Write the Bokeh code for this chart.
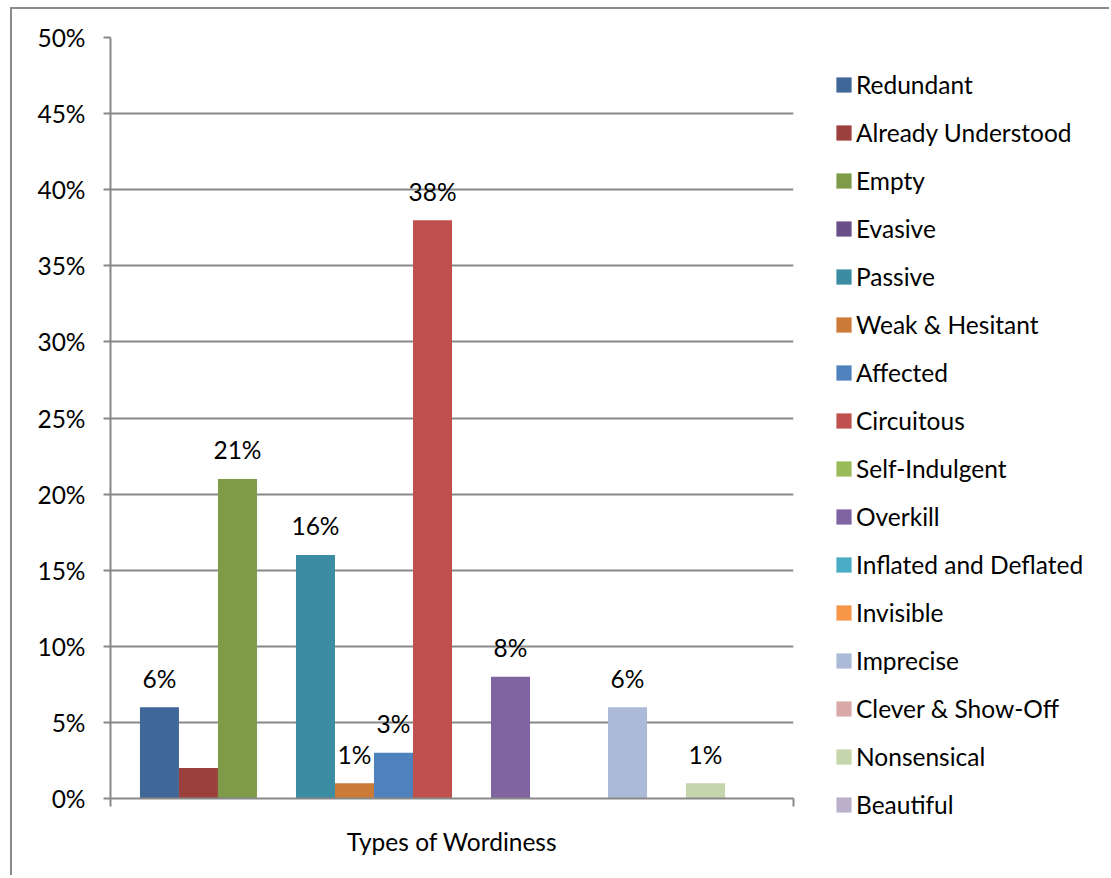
from bokeh.plotting import figure
from bokeh.layouts import row
from bokeh.models import (Range1d, FixedTicker, PrintfTickFormatter, Legend,
                          LegendItem, ColumnDataSource)
from bokeh.embed import file_html
from bokeh.resources import INLINE

categories = ["Redundant", "Already Understood", "Empty", "Evasive", "Passive",
              "Weak & Hesitant", "Affected", "Circuitous", "Self-Indulgent",
              "Overkill", "Inflated and Deflated", "Invisible", "Imprecise",
              "Clever & Show-Off", "Nonsensical", "Beautiful"]
values = [6, 2, 21, 0, 16, 1, 3, 38, 0, 8, 0, 0, 6, 0, 1, 0]
data_labels = ["6%", "", "21%", "", "16%", "1%", "3%", "38%", "", "8%", "",
               "", "6%", "", "1%", ""]
colors = ["#3F6797", "#9C403E", "#7F9A48", "#6A4E89", "#3C8CA3", "#CC7A37",
          "#4F81BD", "#C0504D", "#9BBB59", "#8064A2", "#4BACC6", "#F79646",
          "#AABAD7", "#D9AAA9", "#C6D6AC", "#BAB0C9"]
y_ticks = [0, 5, 10, 15, 20, 25, 30, 35, 40, 45, 50]
axis_title = "Types of Wordiness"

FONT = "Lato"
FS = "24.5px"
GRAY = "#888888"
H = 866

n = len(categories)
xs = list(range(n))
x_lo, x_hi = -1.255, n - 1 + 1.255

# ---- main chart ----
p = figure(width=784, height=H, output_backend="svg", toolbar_location=None,
           x_range=Range1d(x_lo, x_hi), y_range=Range1d(y_ticks[0], y_ticks[-1]),
           min_border_left=98, min_border_top=28, min_border_right=3,
           min_border_bottom=77)
p.outline_line_color = None
p.background_fill_color = "white"
p.border_fill_color = "white"

src = ColumnDataSource(dict(x=xs, top=values, lab=data_labels))

for i in range(n):
    p.vbar(x=xs[i], top=values[i], bottom=0, width=1.0, fill_color=colors[i],
           line_color=None)

p.text(x="x", y="top", text="lab", source=src, text_align="center",
       text_baseline="alphabetic", y_offset=-29, text_font_size=FS,
       text_color="black", text_font={"value": FONT})

p.yaxis.ticker = FixedTicker(ticks=y_ticks)
p.yaxis.formatter = PrintfTickFormatter(format="%d%%")
p.yaxis.axis_line_color = GRAY
p.yaxis.axis_line_width = 2
p.yaxis.major_tick_line_color = GRAY
p.yaxis.major_tick_line_width = 2
p.yaxis.major_tick_out = 7
p.yaxis.major_tick_in = 0
p.yaxis.minor_tick_line_color = None
p.yaxis.major_label_text_font = FONT
p.yaxis.major_label_text_font_size = FS
p.yaxis.major_label_text_color = "black"
p.yaxis.major_label_standoff = 18

p.xaxis.ticker = FixedTicker(ticks=[x_lo, x_hi])
p.xaxis.axis_line_color = GRAY
p.xaxis.axis_line_width = 2
p.xaxis.major_tick_line_color = GRAY
p.xaxis.major_tick_line_width = 2
p.xaxis.major_tick_out = 8
p.xaxis.major_tick_in = 0
p.xaxis.minor_tick_line_color = None
p.xaxis.major_label_text_font_size = "0px"
p.xaxis.major_label_standoff = 0
p.xaxis.axis_label = axis_title
p.xaxis.axis_label_text_font = FONT
p.xaxis.axis_label_text_font_size = FS
p.xaxis.axis_label_text_font_style = "normal"
p.xaxis.axis_label_text_color = "black"
p.xaxis.axis_label_standoff = 20

p.xgrid.grid_line_color = None
p.ygrid.grid_line_color = GRAY
p.ygrid.grid_line_width = 2

# ---- legend panel (proxies kept out of view) ----
lp = figure(width=313, height=H, output_backend="svg", toolbar_location=None,
            x_axis_location=None, y_axis_location=None,
            x_range=Range1d(1000, 1001), y_range=Range1d(1000, 1001),
            min_border_left=0, min_border_right=0, min_border_top=0,
            min_border_bottom=0)
lp.outline_line_color = None
lp.xgrid.grid_line_color = None
lp.ygrid.grid_line_color = None
lp.background_fill_color = "white"
lp.border_fill_color = "white"

for fig in (p, lp):
    try:
        fig.frame_align = False
    except Exception:
        pass

items = []
for i in range(n):
    proxy = lp.vbar(x=[xs[i]], top=[values[i]], bottom=0, width=1.0,
                    fill_color=colors[i], line_color=None)
    items.append(LegendItem(label=categories[i], renderers=[proxy]))

legend = Legend(items=items, location=(38, 56), orientation="vertical",
                glyph_width=19, glyph_height=19, label_height=29, spacing=19,
                padding=0, margin=0, label_standoff=3,
                label_text_font=FONT, label_text_font_size=FS,
                label_text_color="black", border_line_color=None,
                background_fill_alpha=0)
lp.add_layout(legend, "center")

layout = row(p, lp, spacing=0)
layout.styles = {"margin-left": "10px", "margin-top": "7px",
                 "border-left": "2px solid #8a8a8a",
                 "border-top": "2px solid #8a8a8a"}

open("out.html", "w").write(file_html(layout, INLINE))
